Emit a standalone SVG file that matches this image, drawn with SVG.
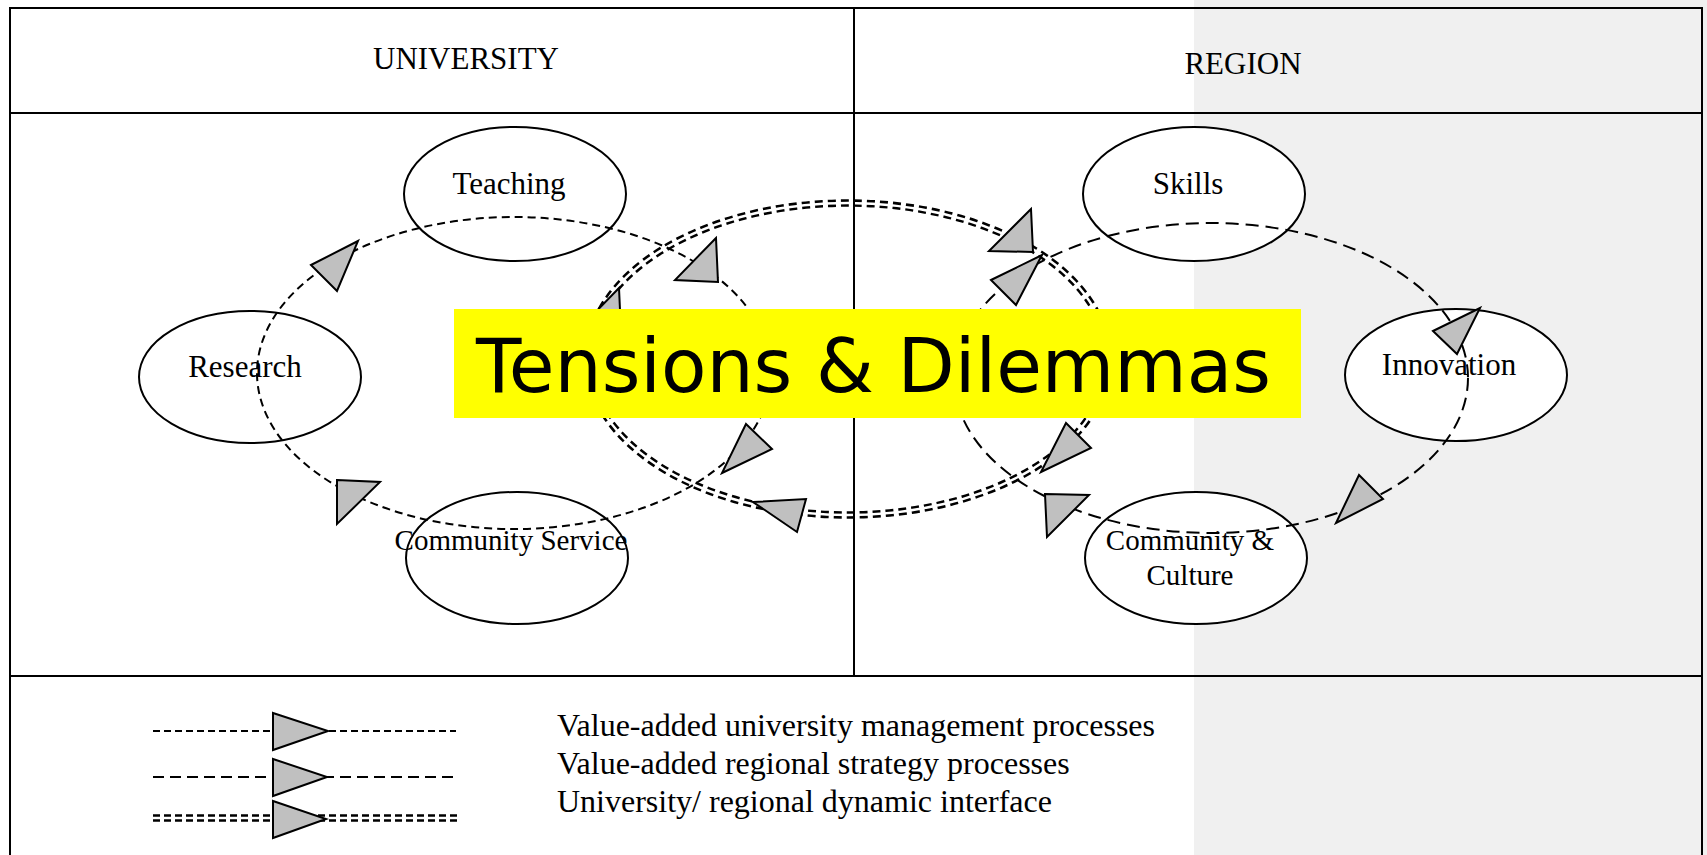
<svg xmlns="http://www.w3.org/2000/svg" width="1707" height="855" viewBox="0 0 1707 855">
<style>
.frame{fill:none;stroke:#000;stroke-width:2}
.node{fill:#fff;stroke:#000;stroke-width:2}
.lbl{font-family:"Liberation Serif","Times New Roman",serif;font-size:31px;fill:#000;text-anchor:middle}
.lbl2{font-family:"Liberation Serif","Times New Roman",serif;font-size:29px;fill:#000;text-anchor:middle}
.leg{font-family:"Liberation Serif","Times New Roman",serif;font-size:32px;fill:#000}
.uni{fill:none;stroke:#000;stroke-width:2;stroke-dasharray:8 5}
.reg{fill:none;stroke:#000;stroke-width:2;stroke-dasharray:13 7}
.dbl{fill:none;stroke:#000;stroke-width:7.5;stroke-dasharray:8 5}
.arr{fill:#c0c0c0;stroke:#000;stroke-width:2;stroke-linejoin:miter}
</style>
<defs>
<mask id="m3" maskUnits="userSpaceOnUse" x="0" y="0" width="1707" height="855">
<rect x="0" y="0" width="1707" height="855" fill="#fff"/>
<ellipse cx="848" cy="359" rx="260" ry="156" fill="none" stroke="#000" stroke-width="2.5"/>
</mask>
<mask id="mleg" maskUnits="userSpaceOnUse" x="0" y="0" width="1707" height="855">
<rect x="0" y="0" width="1707" height="855" fill="#fff"/>
<line x1="150" y1="818" x2="470" y2="818" stroke="#000" stroke-width="2.5"/>
</mask>
</defs>
<rect x="1194" y="0" width="513" height="855" fill="#f0f0f0"/>
<g id="frame">
<rect class="frame" x="10" y="8" width="1692" height="860"/>
<line class="frame" x1="10" y1="113" x2="1702" y2="113"/>
<line class="frame" x1="854" y1="8" x2="854" y2="676"/>
<line class="frame" x1="10" y1="676" x2="1702" y2="676"/>
</g>
<g id="header-university"><text class="lbl" x="466" y="69">UNIVERSITY</text></g>
<g id="header-region"><text class="lbl" x="1243" y="74">REGION</text></g>
<g id="node-teaching"><ellipse class="node" cx="515" cy="194" rx="111" ry="67"/><text class="lbl" x="509" y="194">Teaching</text></g>
<g id="node-research"><ellipse class="node" cx="250" cy="377" rx="111" ry="66"/><text class="lbl" x="245" y="377">Research</text></g>
<g id="node-community-service"><ellipse class="node" cx="517" cy="558" rx="111" ry="66"/><text class="lbl2" x="511" y="550">Community Service</text></g>
<g id="node-skills"><ellipse class="node" cx="1194" cy="194" rx="111" ry="67"/><text class="lbl" x="1188" y="194">Skills</text></g>
<g id="node-innovation"><ellipse class="node" cx="1456" cy="375" rx="111" ry="66"/><text class="lbl" x="1449" y="375">Innovation</text></g>
<g id="node-community-culture"><ellipse class="node" cx="1196" cy="558" rx="111" ry="66"/><text class="lbl2" x="1190" y="550">Community &amp;</text><text class="lbl2" x="1190" y="585">Culture</text></g>
<g id="connectors">
<ellipse class="uni" cx="514" cy="373" rx="257" ry="156"/>
<ellipse class="reg" cx="1211" cy="378" rx="257" ry="155"/>
<ellipse class="dbl" cx="848" cy="359" rx="260" ry="156" mask="url(#m3)"/>
<polygon class="arr" points="311,265 358,241 337,291"/>
<polygon class="arr" points="716,238 675,280 718,282"/>
<polygon class="arr" points="746,424 772,449 722,473"/>
<polygon class="arr" points="337,480 380,482 337,524"/>
<polygon class="arr" points="619,288 578,330 621,332"/>
<polygon class="arr" points="1031,209 989,251 1033,252"/>
<polygon class="arr" points="991,280 1042,255 1016,305"/>
<polygon class="arr" points="753,502 806,499 797,532"/>
<polygon class="arr" points="1066,423 1091,448 1041,472"/>
<polygon class="arr" points="1045,494 1089,495 1047,537"/>
<polygon class="arr" points="1433,331 1480,308 1457,354"/>
<polygon class="arr" points="1359,475 1383,499 1336,523"/>
</g>
<g id="title">
<rect x="454" y="309" width="847" height="109" fill="#ffff00"/>
<text x="476" y="392" font-family="'DejaVu Sans',Verdana,sans-serif" font-size="74" textLength="795" lengthAdjust="spacingAndGlyphs" fill="#000">Tensions &amp; Dilemmas</text>
</g>
<g id="legend">
<line x1="153" y1="731" x2="456" y2="731" stroke="#000" stroke-width="2" stroke-dasharray="7 4"/>
<polygon class="arr" points="273,713 328,731 273,750"/>
<line x1="153" y1="777" x2="456" y2="777" stroke="#000" stroke-width="2" stroke-dasharray="11 6"/>
<polygon class="arr" points="273,759 327,777 273,796"/>
<line x1="153" y1="818" x2="460" y2="818" stroke="#000" stroke-width="7.5" stroke-dasharray="7 4" mask="url(#mleg)"/>
<polygon class="arr" points="273,801 326,819 273,838"/>
<text class="leg" x="557" y="736">Value-added university management processes</text>
<text class="leg" x="557" y="774">Value-added regional strategy processes</text>
<text class="leg" x="557" y="812">University/ regional dynamic interface</text>
</g>
</svg>
